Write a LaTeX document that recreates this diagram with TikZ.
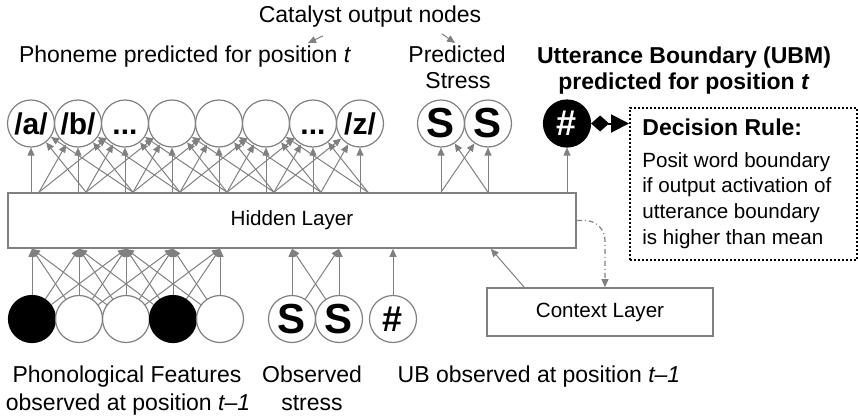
\documentclass[tikz,border=0pt]{standalone}
\usepackage{fontspec}
\setmainfont{Liberation Sans}
\usetikzlibrary{calc}
\usetikzlibrary{arrows.meta}

\definecolor{wiregray}{RGB}{128,128,128}

\begin{document}
\begin{tikzpicture}[x=0.5pt, y=-0.5pt]

    \tikzset{
        unit/.style={circle, draw=wiregray, line width=0.6pt, minimum size=23.5pt, inner sep=0pt, font=\fontsize{15}{15}\selectfont\bfseries},
        stressunit/.style={unit, font=\fontsize{21}{21}\selectfont\bfseries},
        onunit/.style={unit, fill=black, draw=black},
        wire/.style={draw=wiregray, line width=0.5pt, -{Triangle[length=4pt, width=3.5pt]}},
        layer/.style={draw=wiregray, line width=0.8pt, font=\fontsize{10.3}{12}\selectfont},
        lbl/.style={font=\fontsize{11.5}{14}\selectfont},
        boldlbl/.style={font=\fontsize{11.5}{14}\selectfont\bfseries},
        rulebox/.style={draw=black, line width=1pt, dash pattern=on 1pt off 1pt},
        loopback/.style={draw=wiregray, line width=0.6pt, dash pattern=on 2.5pt off 1.5pt on 0.5pt off 1.5pt, rounded corners=10pt, -{Triangle[length=4pt, width=3.5pt]}},
    }

    \useasboundingbox (0, 0) rectangle (858, 418);

    % output layer: phonemes
    \node [unit] (o1) at (31, 123.5) {/a/};
    \node [unit] (o2) at ($(o1) + (47, 0)$) {/b/};
    \node [unit] (o3) at ($(o2) + (47, 0)$) {\vphantom{/}...};
    \node [unit] (o4) at ($(o3) + (47, 0)$) {};
    \node [unit] (o5) at ($(o4) + (47, 0)$) {};
    \node [unit] (o6) at ($(o5) + (47, 0)$) {};
    \node [unit] (o7) at ($(o6) + (47, 0)$) {\vphantom{/}...};
    \node [unit] (o8) at ($(o7) + (47, 0)$) {/z/};
    % output layer: stress and boundary
    \node [stressunit] (ps1) at (441, 123.5) {S};
    \node [stressunit] (ps2) at ($(ps1) + (47, 0)$) {S};
    \node [onunit, text=white, font=\fontsize{18}{18}\selectfont\bfseries] (ub) at (567, 123.5) {\#};

    \node [layer, minimum width=284pt, minimum height=27.5pt] (hidden) at (292, 220.5) {Hidden Layer};
    \node [layer, minimum width=113pt, minimum height=24pt] (context) at (600, 312) {Context Layer};

    % input layer
    \node [onunit] (i1) at (32, 319) {};
    \node [unit] (i2) at ($(i1) + (47, 0)$) {};
    \node [unit] (i3) at ($(i2) + (47, 0)$) {};
    \node [onunit] (i4) at ($(i3) + (47, 0)$) {};
    \node [unit] (i5) at ($(i4) + (47, 0)$) {};
    \node [stressunit] (os1) at (292, 319) {S};
    \node [stressunit] (os2) at ($(os1) + (47, 0)$) {S};
    \node [unit, font=\fontsize{18}{18}\selectfont\bfseries] (ubin) at (393, 319) {\#};

    % hidden -> phonemes
    \foreach \i in {1,...,8} {
        \foreach \j in {1,...,8} {
            \pgfmathtruncatemacro{\d}{abs(\i - \j)}
            \ifnum\d=0
                \draw [wire] (o\j |- hidden.north) -- (o\i);
            \else\ifnum\d<3
                \draw [wire] ($(o\j |- hidden.north) + (8, 0)$) -- (o\i);
            \fi\fi
        }
    }
    % features -> hidden
    \foreach \i in {1,...,5} {
        \foreach \j in {1,...,5} {
            \pgfmathtruncatemacro{\d}{abs(\i - \j)}
            \ifnum\d<3
                \draw [wire] (i\j) -- (i\i |- hidden.south);
            \fi
        }
    }
    \foreach \i in {1, 2} {
        \foreach \j in {1, 2} {
            \draw [wire] (os\j) -- (os\i |- hidden.south);
            \draw [wire] (ps\j |- hidden.north) -- (ps\i);
        }
    }
    \draw [wire] (ubin) -- (ubin |- hidden.south);
    \draw [wire] (ub |- hidden.north) -- (ub);
    \draw [wire] ($(context.north west) + (38, 0)$) -- ($(hidden.south east) + (-86, 0)$);
    \draw [loopback] (hidden.east) -| ($(context.north) + (5, 0)$);

    % decision rule
    \node [rulebox, minimum width=113.5pt, minimum height=76pt] (rule) at (743.5, 184) {};
    \node [boldlbl, anchor=base west, inner sep=0pt] (ruletitle) at (642, 135) {Decision Rule:};
    \node [anchor=north west, align=left, inner sep=0pt, font=\fontsize{10.3}{12.8}\selectfont] (ruletext) at (642, 152)
        {Posit word boundary\\if output activation of\\utterance boundary\\is higher than mean};
    \draw [black, line width=1pt, {Diamond[length=9pt, width=8pt]}-{Triangle[length=9pt, width=9pt]}] (ub) -- (rule.west |- ub);

    % labels
    \node [lbl, anchor=base] (catalyst) at (370, 22) {Catalyst output nodes};
    \coordinate (tophon) at (308, 43);
    \coordinate (tostress) at (455, 43);
    \draw [wire] ($(catalyst.south) + (-47, 2)$) -- (tophon);
    \draw [wire] ($(catalyst.south) + (72, 0)$) -- (tostress);
    \node [lbl, anchor=base] (phonlbl) at (185, 62) {Phoneme predicted for position \textit{t}};
    \node [lbl, anchor=base] (predlbl) at (457, 62) {Predicted};
    \node [lbl, anchor=base] (stresslbl) at (458, 88) {Stress};
    \node [boldlbl, anchor=base] (ubmlbl) at (684, 63) {Utterance Boundary (UBM)};
    \node [boldlbl, anchor=base] (ubmpos) at (684, 89) {predicted for position \textit{t}};
    \node [lbl, anchor=base] (featlbl) at (127, 382) {Phonological Features};
    \node [lbl, anchor=base] (featpos) at (128, 410) {observed at position \textit{t--1}};
    \node [lbl, anchor=base] (obslbl) at (312, 382) {Observed};
    \node [lbl, anchor=base] (obsstress) at (312, 410) {stress};
    \node [lbl, anchor=base] (ubinlbl) at (539, 382) {UB observed at position \textit{t--1}};

\end{tikzpicture}
\end{document}
